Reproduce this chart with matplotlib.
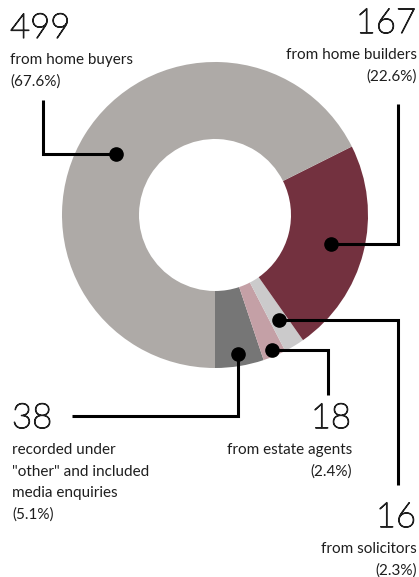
import matplotlib
matplotlib.use("Agg")
import matplotlib.pyplot as plt
import matplotlib.patheffects as pe
import numpy as np

# categories in drawing order: from 6 o'clock, going anticlockwise
categories = ["other", "estate agents", "solicitors", "home builders", "home buyers"]
counts = [38, 18, 16, 167, 499]
percents = [5.1, 2.4, 2.3, 22.6, 67.6]
captions = [
    "recorded under\n\"other\" and included\nmedia enquiries",
    "from estate agents",
    "from solicitors",
    "from home builders",
    "from home buyers",
]
colors = ["#767676", "#c4a0a6", "#cbcacb", "#73313f", "#aeaaa7"]

W, H = 419, 577
CENTER = (215, 215)
R_OUT, R_IN = 153, 76
FONT = ["Lato", "DejaVu Sans"]
INK = "#1e1e1e"

# where each callout goes (pixel coords, y down)
# dot radius, elbow kind, elbow coordinate, end coordinate, label anchor
layout = {
    "other":         dict(r=141, kind="v", elbow=416, end=72,  pos=(12, 428), ha="left"),
    "estate agents": dict(r=147, kind="h", elbow=328, end=395, pos=(351, 428), ha="right"),
    "solicitors":    dict(r=123, kind="h", elbow=398, end=485, pos=(416, 527), ha="right"),
    "home builders": dict(r=120, kind="h", elbow=398, end=104, pos=(416, 33), ha="right"),
    "home buyers":   dict(r=116, kind="h", elbow=43,  end=100, pos=(10, 38), ha="left"),
}


def main():
    fig = plt.figure(figsize=(W / 100, H / 100), dpi=100)
    ax = fig.add_axes([0, 0, 1, 1])

    # y axis runs downwards, so startangle 90 is the bottom of the ring
    wedges, _ = ax.pie(
        counts,
        colors=colors,
        startangle=90,
        counterclock=False,
        center=CENTER,
        radius=R_OUT,
        wedgeprops=dict(width=R_OUT - R_IN, linewidth=0),
        frame=True,
    )
    ax.set_xlim(0, W)
    ax.set_ylim(H, 0)
    ax.set_aspect("auto")
    ax.axis("off")

    # thin numbers: hairline face thickened a little with a stroke
    thin = [pe.withStroke(linewidth=0.9, foreground=INK)]

    for cat, w, n, pct, cap in zip(categories, wedges, counts, percents, captions):
        lay = layout[cat]
        mid = np.deg2rad((w.theta1 + w.theta2) / 2)
        dx = CENTER[0] + lay["r"] * np.cos(mid)
        dy = CENTER[1] + lay["r"] * np.sin(mid)

        if lay["kind"] == "h":
            xs = [dx, lay["elbow"], lay["elbow"]]
            ys = [dy, dy, lay["end"]]
        else:
            xs = [dx, dx, lay["end"]]
            ys = [dy, lay["elbow"], lay["elbow"]]
        ax.plot(xs, ys, color="black", linewidth=2.2, solid_joinstyle="miter",
                solid_capstyle="butt", zorder=3)
        ax.plot(dx, dy, "o", color="black", markersize=9.5, zorder=4)

        x, y = lay["pos"]
        ha = lay["ha"]
        ax.text(x, y, str(n), ha=ha, va="baseline", fontsize=25,
                family=FONT, fontweight="light", color=INK, path_effects=thin)
        lines = cap.split("\n") + [f"({pct}%)"]
        for i, line in enumerate(lines):
            ax.text(x + (1 if ha == "right" else 0), y + 26 + 21.5 * i, line,
                    ha=ha, va="baseline", fontsize=11, family=FONT,
                    color=INK)

    fig.savefig("out.png", dpi=100)
    plt.close(fig)


if __name__ == "__main__":
    main()
